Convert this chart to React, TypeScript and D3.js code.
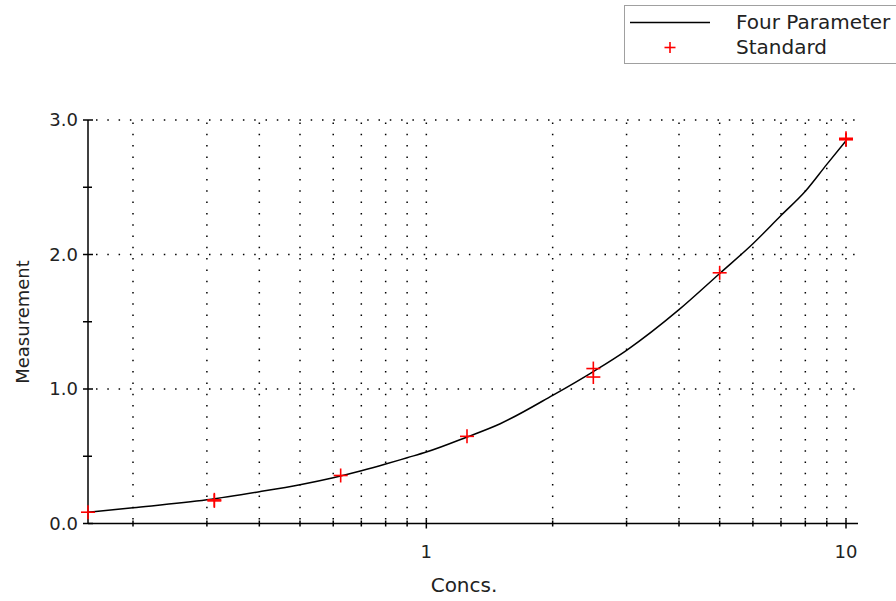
import React from 'react';
import * as d3 from 'd3';

// standards (x = concentration, y = measured)
const stdConc = [0.15625, 0.3125, 0.3125, 0.625, 1.25, 2.5, 2.5, 5, 10, 10];
const stdMeas = [0.084, 0.168, 0.176, 0.357, 0.648, 1.152, 1.089, 1.864, 2.853, 2.864];

// four parameter fit curve
const fitConc = [0.15625, 0.2, 0.3, 0.4, 0.5, 0.6, 0.7, 0.8, 0.9, 1, 1.25, 1.5, 2, 2.5, 3, 4, 5, 6, 7, 8, 9, 10];
const fitMeas = [0.084, 0.117, 0.176, 0.236, 0.288, 0.34, 0.392, 0.442, 0.489, 0.531, 0.643, 0.742, 0.953, 1.13, 1.288, 1.59, 1.859, 2.08, 2.29, 2.47, 2.67, 2.846];

const yTicks = [0, 1, 2, 3];
const yMinorTicks = [0.5, 1.5, 2.5];
const xGrid = [0.2, 0.3, 0.4, 0.5, 0.6, 0.7, 0.8, 0.9, 1, 2, 3, 4, 5, 6, 7, 8, 9, 10];
const xLabels = [1, 10];

const legendItems = ['Four Parameter', 'Standard'];

const W = 896, H = 601;
const left = 88, top = 120, bottom = 523.5;

const App = () => {
  const x = d3.scaleLog().domain([0.15625, 10]).range([left, 846]);
  const y = d3.scaleLinear().domain([0, 3]).range([bottom, top]);
  const right = 858;
  const font = 'DejaVu Sans, Verdana, sans-serif';
  const dots = '1.5 9.8';

  const fit = fitConc.map((c, i) => [c, fitMeas[i]] as [number, number]);
  const line = d3.line<[number, number]>()
    .x(d => x(d[0]))
    .y(d => y(d[1]))
    .curve(d3.curveMonotoneX);

  const plus = (cx: number, cy: number, r: number, k: string) => (
    <g key={k} stroke="#ff0000" strokeWidth={1.6}>
      <line x1={cx - r} x2={cx + r} y1={cy} y2={cy} />
      <line x1={cx} x2={cx} y1={cy - r} y2={cy + r} />
    </g>
  );

  return (
    <svg width={W} height={H} style={{position: 'absolute', left: 0, top: 0, background: '#fff'}}>
      {/* grid */}
      <g stroke="#000" strokeWidth={1.5} strokeDasharray={dots}>
        {xGrid.map(v => (
          <line key={'gx' + v} x1={x(v)} x2={x(v)} y1={bottom - 4} y2={top} />
        ))}
        {yTicks.filter(v => v > 0).map(v => (
          <line key={'gy' + v} x1={left + 8} x2={right} y1={y(v)} y2={y(v)} />
        ))}
      </g>

      {/* axes */}
      <g stroke="#000" strokeWidth={1.5}>
        <line x1={left} x2={left} y1={top} y2={bottom} />
        <line x1={left} x2={right} y1={bottom} y2={bottom} />
        {yTicks.map(v => (
          <line key={'ty' + v} x1={left - 5} x2={left + 5} y1={y(v)} y2={y(v)} />
        ))}
        {yMinorTicks.map(v => (
          <line key={'tym' + v} x1={left - 5} x2={left + 4} y1={y(v)} y2={y(v)} />
        ))}
        {xGrid.map(v => {
          const big = xLabels.includes(v);
          return <line key={'tx' + v} x1={x(v)} x2={x(v)} y1={bottom - (big ? 4 : 3)} y2={bottom + (big ? 5 : 3)} />;
        })}
      </g>

      <g fontFamily={font} fontSize={18} fill="#222">
        {yTicks.map(v => (
          <text key={'ly' + v} x={left - 10} y={y(v)} dy="0.36em" textAnchor="end">{v.toFixed(1)}</text>
        ))}
        {xLabels.map(v => (
          <text key={'lx' + v} x={x(v)} y={558} textAnchor="middle">{v}</text>
        ))}
        <text x={464} y={592} textAnchor="middle" fontSize={20}>Concs.</text>
        <text transform={`translate(29,${322}) rotate(-90)`} textAnchor="middle">Measurement</text>
      </g>

      {/* curve */}
      <path d={line(fit) ?? ''} fill="none" stroke="#000" strokeWidth={1.5} />

      {/* standards */}
      {stdConc.map((c, i) => plus(x(c), y(stdMeas[i]), 7, 'p' + i))}

      {/* legend */}
      <rect x={624.5} y={5.5} width={300} height={58} fill="#fff" stroke="#a0a0a0" strokeWidth={1} />
      <line x1={630} x2={710} y1={22.5} y2={22.5} stroke="#000" strokeWidth={1.5} />
      {plus(670, 47.5, 5.5, 'leg')}
      <g fontFamily={font} fontSize={20} fill="#222">
        {legendItems.map((t, i) => (
          <text key={t} x={736} y={29 + i * 25}>{t}</text>
        ))}
      </g>
    </svg>
  );
};

export default App;
